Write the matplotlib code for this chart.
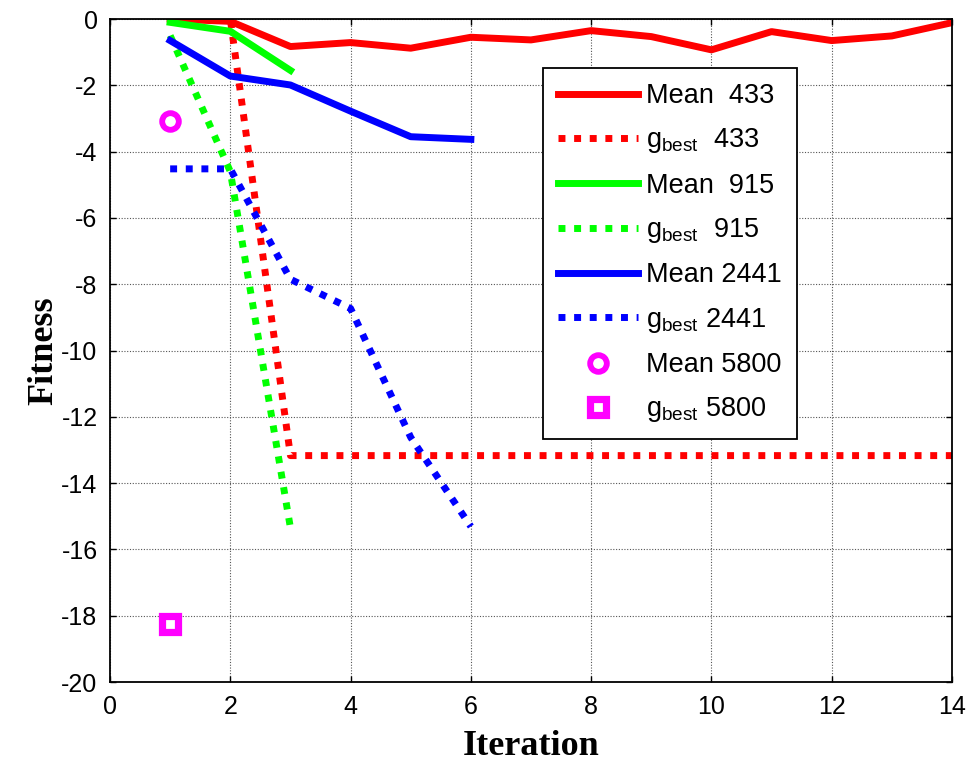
import numpy as np
import matplotlib.pyplot as plt

plt.rcParams['axes.unicode_minus'] = False

# Iteration vs fitness for each run size
it_433 = np.arange(1, 15)
mean_433 = [0.0, -0.07, -0.83, -0.71, -0.88, -0.55, -0.63, -0.35, -0.53, -0.93, -0.38, -0.65, -0.51, -0.11]
gbest_433 = [0.0, 0.0, -13.17, -13.17, -13.17, -13.17, -13.17, -13.17, -13.17, -13.17, -13.17, -13.17, -13.17, -13.17]

it_915 = np.arange(1, 4)
mean_915 = [-0.1, -0.37, -1.55]
gbest_915 = [-0.5, -4.6, -15.35]

it_2441 = np.arange(1, 7)
mean_2441 = [-0.65, -1.72, -1.99, -2.78, -3.55, -3.63]
gbest_2441 = [-4.52, -4.52, -7.85, -8.73, -12.62, -15.31]

it_5800 = [1]
mean_5800 = [-3.07]
gbest_5800 = [-18.26]

fig = plt.figure(figsize=(9.71, 7.61), dpi=100)
ax = fig.add_axes([0.1133, 0.1038, 0.8671, 0.8712])

lw = 5
dot = (0, (1, 1.25))
ax.plot(it_433, mean_433, color='#ff0000', lw=lw, label='Mean  433')
ax.plot(it_433, gbest_433, color='#ff0000', lw=lw, ls=dot, dash_capstyle='butt', label='$\\mathregular{g_{best}}$  433')
ax.plot(it_915, mean_915, color='#00ff00', lw=lw, label='Mean  915')
ax.plot(it_915, gbest_915, color='#00ff00', lw=lw, ls=dot, dash_capstyle='butt', label='$\\mathregular{g_{best}}$  915')
ax.plot(it_2441, mean_2441, color='#0000ff', lw=lw, label='Mean 2441')
ax.plot(it_2441, gbest_2441, color='#0000ff', lw=lw, ls=dot, dash_capstyle='butt', label='$\\mathregular{g_{best}}$ 2441')
ax.plot(it_5800, mean_5800, ls='none', marker='o', ms=12, mew=4.2, mec='#ff00ff', mfc='white', label='Mean 5800')
ax.plot(it_5800, gbest_5800, ls='none', marker='s', ms=11.5, mew=5.2, mec='#ff00ff', mfc='white', label='$\\mathregular{g_{best}}$ 5800')

ax.set_xlim(0, 14)
ax.set_ylim(-20, 0)
ax.set_xticks(np.arange(0, 15, 2))
ax.set_yticks(np.arange(-20, 1, 2))
ax.grid(True, color='#555555', ls=(0, (1, 1.5)), lw=0.8)
ax.tick_params(direction='in', length=4, width=1, top=True, right=True,
               labelsize=18, pad=9)
for lab in ax.get_xticklabels() + ax.get_yticklabels():
    lab.set_fontfamily('Liberation Sans')
for sp in ax.spines.values():
    sp.set_linewidth(1.3)

ax.set_xlabel('Iteration', fontsize=26, fontweight='bold', family='Liberation Serif', labelpad=8)
ax.set_ylabel('Fitness', fontsize=26, fontweight='bold', family='Liberation Serif', labelpad=1)

leg = ax.legend(loc='upper left', bbox_to_anchor=(0.5143, 0.926),
                prop={'family': 'Liberation Sans', 'size': 19.5},
                frameon=True, fancybox=False, edgecolor='black', framealpha=1,
                handlelength=2.95, handletextpad=0.3, labelspacing=0.64,
                borderpad=0.55, borderaxespad=0)
leg.get_frame().set_linewidth(1.3)

fig.savefig('out.png', dpi=100)
